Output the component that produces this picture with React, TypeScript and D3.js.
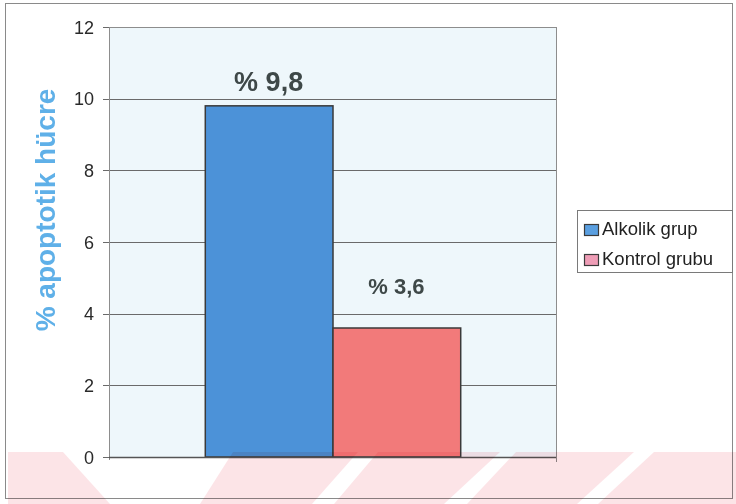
import React from "react";
import * as d3 from "d3";

// Series: share of apoptotic cells per group
const seriesNames = ["Alkolik grup", "Kontrol grubu"];
const seriesValues = [9.8, 3.6];
const valueLabels = ["% 9,8", "% 3,6"];
const yTicks = [0, 2, 4, 6, 8, 10, 12];
const yTitle = "% apoptotik hücre";

const barColors = ["#4c92d8", "#f27a7a"];
const swatchColors = ["#5a9fe0", "#ee9db6"];
// per-label styling (font size, gap above the bar)
const labelStyles = [
  { size: 27, gap: 15 },
  { size: 22, gap: 34 },
];

const W = 736;
const H = 504;
const plot = { left: 109, right: 556, top: 27, bottom: 457 };
const FONT = "'Liberation Sans', Arial, Helvetica, sans-serif";

// faint diagonal-striped band across the bottom of the sheet
const bandTop = 452;
const bandStripes = [
  [63, 233, 200, 110],
  [358, 378, 334, 312],
  [500, 516, 467, 444],
  [634, 654, 598, 577],
];

export default function App() {
  const y = d3.scaleLinear().domain([0, 12]).range([plot.bottom, plot.top]);
  const group = d3
    .scaleBand<string>()
    .domain(["g"])
    .range([plot.left, plot.right])
    .paddingInner(0)
    .paddingOuter(0.375);
  const x = d3
    .scaleBand<string>()
    .domain(seriesNames)
    .range([group("g")!, group("g")! + group.bandwidth()])
    .padding(0);

  return (
    <svg
      width={W}
      height={H}
      viewBox={`0 0 ${W} ${H}`}
      style={{ position: "absolute", left: 0, top: 0, display: "block" }}
      fontFamily={FONT}
    >
      <defs>
        <mask id="bandMask">
          <rect x={8} y={bandTop} width={W - 8} height={H - bandTop} fill="white" />
          {bandStripes.map((s, i) => (
            <polygon
              key={i}
              points={`${s[0]},${bandTop} ${s[1]},${bandTop} ${s[2]},${H} ${s[3]},${H}`}
              fill="black"
            />
          ))}
        </mask>
      </defs>

      <rect x={0} y={0} width={W} height={H} fill="#ffffff" />
      {/* chart frame */}
      <rect x={5.5} y={3.5} width={727} height={495} fill="none" stroke="#8a8a8a" strokeWidth={1} />

      {/* plot area */}
      <rect
        x={plot.left}
        y={plot.top}
        width={plot.right - plot.left}
        height={plot.bottom - plot.top}
        fill="#eef7fb"
      />
      {yTicks.map((t) => (
        <g key={t}>
          {t > 0 && (
            <line
              x1={plot.left}
              x2={plot.right}
              y1={Math.round(y(t)) + 0.5}
              y2={Math.round(y(t)) + 0.5}
              stroke={t === 12 ? "#8d8d8d" : "#6a6a6a"}
              strokeWidth={1}
            />
          )}
          <line
            x1={plot.left - 6}
            x2={plot.left}
            y1={Math.round(y(t)) + 0.5}
            y2={Math.round(y(t)) + 0.5}
            stroke="#6a6a6a"
          />
          <text
            x={94}
            y={y(t) + 6.5}
            textAnchor="end"
            fontSize={18}
            fill="#2a2a2a"
          >
            {t}
          </text>
        </g>
      ))}
      <line x1={plot.left + 0.5} x2={plot.left + 0.5} y1={plot.top} y2={plot.bottom + 3} stroke="#8d8d8d" />
      <line x1={plot.right + 0.5} x2={plot.right + 0.5} y1={plot.top} y2={plot.bottom + 5} stroke="#8d8d8d" />

      {/* bars */}
      {seriesNames.map((name, i) => (
        <rect
          key={name}
          x={x(name)! + 0.5}
          y={y(seriesValues[i])}
          width={x.bandwidth()}
          height={plot.bottom - y(seriesValues[i])}
          fill={barColors[i]}
          stroke="#3a3a3a"
          strokeWidth={1.5}
        />
      ))}
      <line x1={plot.left} x2={plot.right} y1={plot.bottom + 0.5} y2={plot.bottom + 0.5} stroke="#555" strokeWidth={1.5} />

      {/* value labels */}
      {seriesNames.map((name, i) => (
        <text
          key={name}
          x={x(name)! + x.bandwidth() / 2}
          y={y(seriesValues[i]) - labelStyles[i].gap}
          textAnchor="middle"
          fontSize={labelStyles[i].size}
          fontWeight="bold"
          fill="#3e4848"
        >
          {valueLabels[i]}
        </text>
      ))}

      {/* axis title */}
      <text
        transform={`translate(55, 210) rotate(-90)`}
        textAnchor="middle"
        fontSize={28}
        fontWeight="bold"
        fill="#5fb0e8"
      >
        {yTitle}
      </text>

      {/* legend */}
      <rect x={577.5} y={210.5} width={155} height={62} fill="#fff" stroke="#7a7a7a" />
      {seriesNames.map((name, i) => (
        <g key={name} transform={`translate(584, ${224 + i * 30})`}>
          <rect x={0.5} y={0.5} width={14} height={11} fill={swatchColors[i]} stroke="#3a3a3a" strokeWidth={1.2} />
          <text x={18} y={11} fontSize={18.5} fill="#222">
            {name}
          </text>
        </g>
      ))}

      {/* pale striped band */}
      <rect
        x={0}
        y={bandTop}
        width={W}
        height={H - bandTop}
        fill="#fce4e7"
        mask="url(#bandMask)"
        style={{ mixBlendMode: "multiply" }}
      />
    </svg>
  );
}
